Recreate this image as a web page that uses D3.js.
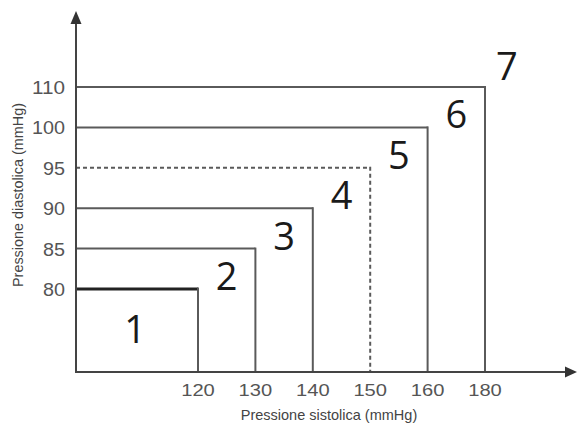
<!DOCTYPE html>
<html>
<head>
<meta charset="utf-8">
<script src="https://cdn.jsdelivr.net/npm/d3@7"></script>
<style>
  body { margin: 0; background: #fff; }
  svg { display: block; }
</style>
</head>
<body>
<div class="Graph"></div>
<script>
// tick values (categorical spacing, 170 is not shown)
const sysTicks = [120, 130, 140, 150, 160, 180];
const diaTicks = [80, 85, 90, 95, 100, 110];
// nested boxes: right edge (systolic) and top edge (diastolic)
const boxSys = [120, 130, 140, 150, 160, 180];
const boxDia = [80, 85, 90, 95, 100, 110];
const boxDashed = [false, false, false, true, false, false];
const classes = ["1", "2", "3", "4", "5", "6", "7"];
const xTitle = "Pressione sistolica (mmHg)";
const yTitle = "Pressione diastolica (mmHg)";

const W = 581, H = 429;
const x0 = 76, y0 = 372;   // axis origin

const svg = d3.select(".Graph").append("svg")
    .attr("width", W)
    .attr("height", H);

let x = d3.scalePoint()//x aixs
    .domain(sysTicks)
    .range([198, 485]);
let y = d3.scalePoint()//y aixs
    .domain(diaTicks)
    .range([289, 87]);

const lineCol = "#5a5a5a";
const tickFont = "Liberation Sans, Arial, sans-serif";

// boxes
boxSys.forEach((s, i) => {
    const d = boxDia[i];
    const g = svg.append("g")
        .attr("fill", "none")
        .attr("stroke", lineCol)
        .attr("stroke-width", 2)
        .attr("stroke-dasharray", boxDashed[i] ? "4,3" : null);
    g.append("line")
        .attr("x1", x0).attr("x2", x(s))
        .attr("y1", y(d)).attr("y2", y(d))
        .attr("stroke", i == 0 ? "#222" : lineCol)
        .attr("stroke-width", i == 0 ? 3 : 2);
    g.append("line")
        .attr("x1", x(s)).attr("x2", x(s))
        .attr("y1", y(d) - (i == 0 ? 1.5 : 1)).attr("y2", y0);
});

// axes
svg.append("line")
    .attr("x1", x0).attr("x2", 568)
    .attr("y1", y0).attr("y2", y0)
    .attr("stroke", "#444").attr("stroke-width", 2);
svg.append("line")
    .attr("x1", x0).attr("x2", x0)
    .attr("y1", y0 + 1).attr("y2", 22)
    .attr("stroke", "#444").attr("stroke-width", 2);
svg.append("path")//arrow x
    .attr("d", `M577,${y0} L565,${y0 - 5.5} L565,${y0 + 5.5} Z`)
    .attr("fill", "#333");
svg.append("path")//arrow y
    .attr("d", `M${x0},11 L${x0 - 5.5},24 L${x0 + 5.5},24 Z`)
    .attr("fill", "#333");

// tick labels (the source font is a bit wider than Arial)
svg.selectAll(".xt").data(sysTicks).enter().append("text")
    .attr("class", "xt")
    .attr("x", d => x(d))
    .attr("y", 395.5)
    .attr("text-anchor", "middle")
    .attr("font-family", tickFont)
    .attr("font-size", 17)
    .attr("textLength", d => String(d).length * 11.2)
    .attr("lengthAdjust", "spacingAndGlyphs")
    .attr("fill", "#555")
    .text(d => d);
svg.selectAll(".yt").data(diaTicks).enter().append("text")
    .attr("class", "yt")
    .attr("x", 65)
    .attr("y", d => y(d) + 7)
    .attr("text-anchor", "end")
    .attr("font-family", tickFont)
    .attr("font-size", 17.5)
    .attr("textLength", d => String(d).length * 11)
    .attr("lengthAdjust", "spacingAndGlyphs")
    .attr("fill", "#555")
    .text(d => d);

// axis titles
svg.append("text")
    .attr("x", 329)
    .attr("y", 420)
    .attr("text-anchor", "middle")
    .attr("font-family", tickFont)
    .attr("font-size", 14.5)
    .attr("fill", "#444")
    .text(xTitle);
svg.append("text")
    .attr("transform", "translate(23,195) rotate(-90)")
    .attr("text-anchor", "middle")
    .attr("font-family", tickFont)
    .attr("font-size", 15)
    .attr("textLength", 184)
    .attr("lengthAdjust", "spacingAndGlyphs")
    .attr("fill", "#444")
    .text(yTitle);

// class numbers: centred between boxes, sitting on the previous box top
const step = x.step();
svg.selectAll(".cl").data(classes).enter().append("text")
    .attr("class", "cl")
    .attr("x", (d, i) => {
        if (i == 0) return (x0 + x(boxSys[0])) / 2 - 2;
        if (i == classes.length - 1) return x(boxSys[i - 1]) + step * 0.38;
        return (x(boxSys[i - 1]) + x(boxSys[i])) / 2;
    })
    .attr("y", (d, i) => i == 0 ? 343 : y(boxDia[i - 1]) + 1 - (i == classes.length - 1 ? 8 : 0))
    .attr("text-anchor", "middle")
    .attr("font-family", "Open Sans, sans-serif")
    .attr("font-size", 38)
    .attr("fill", "#1a1a1a")
    .text(d => d);
</script>
</body>
</html>
